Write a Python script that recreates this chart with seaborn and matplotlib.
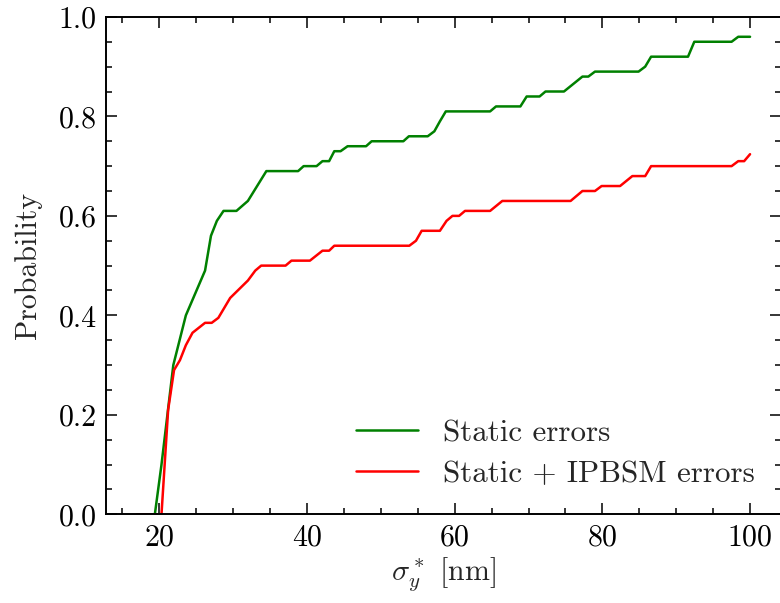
import numpy as np
import pandas as pd
import matplotlib
matplotlib.use("Agg")
import matplotlib.pyplot as plt
from matplotlib.ticker import MultipleLocator
import seaborn as sns

# curve vertices
static_x = [17, 19.4, 20.3, 21.9, 23.6, 26.2, 27.0, 27.8, 28.7, 30.45, 32.0, 34.5,
            38.8, 39.55, 41.3, 42.1, 43.0, 43.7, 44.55, 45.5, 48.0, 48.76, 53.05,
            53.8, 56.35, 57.25, 58.0, 58.8, 64.8, 65.6, 68.9, 69.75, 71.5, 72.3,
            74.8, 77.3, 78.1, 79.0, 84.9, 85.8, 86.6, 91.6, 92.45, 97.5, 98.4, 100]
static_y = [0, 0, 0.10, 0.30, 0.40, 0.49, 0.56, 0.59, 0.61, 0.61, 0.63, 0.69,
            0.69, 0.70, 0.70, 0.71, 0.71, 0.73, 0.73, 0.74, 0.74, 0.75, 0.75,
            0.76, 0.76, 0.77, 0.79, 0.81, 0.81, 0.82, 0.82, 0.84, 0.84, 0.85,
            0.85, 0.88, 0.88, 0.89, 0.89, 0.90, 0.92, 0.92, 0.95, 0.95, 0.96, 0.96]

ipbsm_x = [17, 20.3, 21.2, 22.0, 22.8, 23.6, 24.5, 26.2, 27.1, 28.0, 29.6, 32.0,
           33.0, 33.8, 37.1, 37.9, 40.4, 42.1, 43.0, 43.7, 53.86, 54.76, 55.53,
           58.0, 58.9, 59.7, 60.6, 61.4, 64.8, 66.45, 75.7, 77.3, 79.0, 79.9,
           82.4, 84.06, 85.8, 86.6, 97.5, 98.4, 99.2, 100]
ipbsm_y = [0, 0, 0.21, 0.29, 0.31, 0.34, 0.365, 0.385, 0.385, 0.395, 0.435, 0.47,
           0.49, 0.50, 0.50, 0.51, 0.51, 0.53, 0.53, 0.54, 0.54, 0.55, 0.57,
           0.57, 0.59, 0.60, 0.60, 0.61, 0.61, 0.63, 0.63, 0.65, 0.65, 0.66,
           0.66, 0.68, 0.68, 0.70, 0.70, 0.71, 0.71, 0.724]

labels = ["Static errors", "Static + IPBSM errors"]
colors = ["green", "red"]

df = pd.concat([
    pd.DataFrame({"sigma": static_x, "prob": static_y, "case": labels[0]}),
    pd.DataFrame({"sigma": ipbsm_x, "prob": ipbsm_y, "case": labels[1]}),
])

sns.set_style("ticks")
plt.rcParams["font.family"] = ["serif"]
plt.rcParams["font.serif"] = ["cmr10"]
plt.rcParams["mathtext.fontset"] = "cm"
plt.rcParams["axes.formatter.use_mathtext"] = True
fs = 21.5
plt.rcParams["font.size"] = fs

fig, ax = plt.subplots(figsize=(7.8, 6.03), dpi=100)
fig.subplots_adjust(left=0.1365, right=1.0009, bottom=0.147, top=0.972)

sns.lineplot(data=df, x="sigma", y="prob", hue="case",
             palette=dict(zip(labels, colors)), estimator=None, sort=False,
             linewidth=1.8, ax=ax)

ax.set_ylim(0, 1)
ax.xaxis.set_major_locator(MultipleLocator(20))
ax.xaxis.set_minor_locator(MultipleLocator(5))
ax.yaxis.set_major_locator(MultipleLocator(0.2))
ax.yaxis.set_minor_locator(MultipleLocator(0.05))
ax.yaxis.set_major_formatter(matplotlib.ticker.FormatStrFormatter("%.1f"))
ax.tick_params(which="both", direction="in", top=True, right=True, width=1.1,
               labelsize=fs, colors="black", pad=7)
ax.tick_params(which="major", length=8)
ax.tick_params(which="minor", length=4.5)
for s in ax.spines.values():
    s.set_linewidth(1.4)
    s.set_color("black")

ax.set_xlabel(r"$\sigma_y^*$ [nm]", fontsize=fs, labelpad=3)
ax.set_ylabel("Probability", fontsize=fs, labelpad=12)

ax.legend(loc="lower right", frameon=False, fontsize=22.3, handlelength=2.0,
          handletextpad=0.8, borderaxespad=0.45, labelspacing=0.42)

fig.savefig("out.png", dpi=100)
